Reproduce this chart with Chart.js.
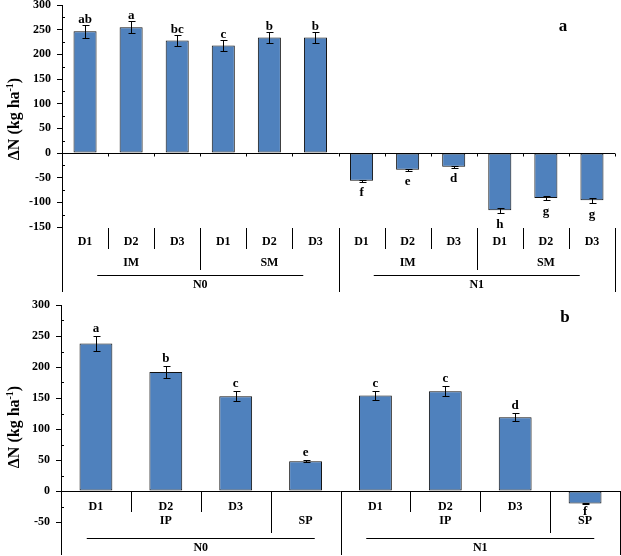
<!DOCTYPE html>
<html><head><meta charset="utf-8">
<script src="https://cdn.jsdelivr.net/npm/chart.js@4.4.1/dist/chart.umd.min.js"></script>
<style>
html,body{margin:0;padding:0;background:#fff;}
#wrap{position:relative;width:621px;height:556px;overflow:hidden;background:#fff;}
#ca{position:absolute;left:0;top:0;}
#cb{position:absolute;left:0;top:295px;}
</style></head><body>
<div id="wrap">
<canvas id="ca" width="621" height="295"></canvas>
<canvas id="cb" width="621" height="261"></canvas>
</div>
<script>
// ---------- Panel a data ----------
const aValues  = [247, 255, 228, 218, 234, 234, -56, -34, -28, -116, -91, -96];
const aErrors  = [13, 12, 11.5, 11.5, 11.5, 11, 2, 1.5, 1.5, 5, 4, 5];
const aLetters = ['ab','a','bc','c','b','b','f','e','d','h','g','g'];
const aLevel1  = ['D1','D2','D3','D1','D2','D3','D1','D2','D3','D1','D2','D3'];
const aLevel2  = ['IM','SM','IM','SM'];
const aLevel2Span = [3,3,3,3];
const aLevel3  = ['N0','N1'];
const aLevel3Span = [6,6];
const aYTicks  = [300,250,200,150,100,50,0,-50,-100,-150];

// ---------- Panel b data ----------
const bValues  = [238, 192, 153, 48, 154, 161, 119, -20];
const bErrors  = [11.5, 9.5, 8, 2, 8, 8.5, 6.5, 1];
const bLetters = ['a','b','c','e','c','c','d','f'];
const bLevel1  = ['D1','D2','D3','','D1','D2','D3',''];
const bLevel2  = ['IP','SP','IP','SP'];
const bLevel2Span = [3,1,3,1];
const bLevel3  = ['N0','N1'];
const bLevel3Span = [4,4];
const bYTicks  = [300,250,200,150,100,50,0,-50];

const FONT = '"Liberation Serif","Times New Roman",serif';
const BAR_FILL = '#4F81BD';

function boundaries(spans){ const s=new Set(); let acc=0; spans.forEach(n=>{acc+=n; s.add(acc);}); return s; }

function decoPlugin(d){
  return {
    id:'deco',
    afterDatasetsDraw(chart){
      const ctx=chart.ctx, ys=chart.scales.y, ca=chart.chartArea;
      const n=d.level1.length, w=(ca.right-ca.left)/n;
      const line=(x1,y1,x2,y2)=>{ctx.beginPath();ctx.moveTo(x1,y1);ctx.lineTo(x2,y2);ctx.stroke();};
      const px=v=>Math.round(v)+0.5;
      ctx.save();
      ctx.strokeStyle='#000'; ctx.fillStyle='#000'; ctx.lineWidth=1;
      // error bars + letters
      const meta=chart.getDatasetMeta(0);
      ctx.font='bold 13px '+FONT; ctx.textAlign='center';
      meta.data.forEach((bar,i)=>{
        const v=d.values[i], e=d.errors[i];
        const x=px(bar.x);
        const y1=ys.getPixelForValue(v+e), y2=ys.getPixelForValue(v-e);
        line(x,px(y1),x,px(y2));
        line(x-3,px(y1),x+4,px(y1));
        line(x-3,px(y2),x+4,px(y2));
        if(v>=0){ ctx.textBaseline='alphabetic'; ctx.fillText(d.letters[i],bar.x,Math.min(y1,y2)-d.gapUp); }
        else { ctx.textBaseline='top'; ctx.fillText(d.letters[i],bar.x,Math.max(y1,y2)+d.gapDown); }
      });
      // zero line
      const y0=px(ys.getPixelForValue(0));
      line(ca.left,y0,ca.right,y0);
      if(d.zeroTicks){ for(let k=1;k<=n;k++){ const x=px(ca.left+k*w); line(x,y0,x,y0+3); } }
      // minor ticks on y axis
      for(let i=0;i<d.yTicks.length-1;i++){
        const m=(d.yTicks[i]+d.yTicks[i+1])/2; const y=px(ys.getPixelForValue(m));
        line(ca.left,y,ca.left+3,y);
      }
      // y axis extension
      const xa=px(ca.left);
      line(xa,ca.bottom,xa,d.rowTop+64);
      // separators
      const b2=boundaries(d.level2Span), b3=boundaries(d.level3Span);
      for(let k=1;k<=n;k++){
        const x=px(ca.left+k*w);
        let len=21; if(b3.has(k)) len=64; else if(b2.has(k)) len=42;
        line(x,d.rowTop,x,d.rowTop+len);
      }
      // labels
      ctx.font='bold 12px '+FONT; ctx.textBaseline='middle'; ctx.textAlign='center';
      d.level1.forEach((t,i)=>{ if(t) ctx.fillText(t,ca.left+(i+0.5)*w,d.rowTop+d.r1); });
      let acc=0;
      d.level2.forEach((t,i)=>{ const c=ca.left+(acc+d.level2Span[i]/2)*w; ctx.fillText(t,c,d.rowTop+d.r2); acc+=d.level2Span[i]; });
      acc=0;
      d.level3.forEach((t,i)=>{ const c=ca.left+(acc+d.level3Span[i]/2)*w;
        ctx.fillText(t,c,d.rowTop+57);
        const yl=px(d.rowTop+47); line(c-d.ulHalf,yl,c+d.ulHalf,yl);
        acc+=d.level3Span[i]; });
      // y title
      ctx.save();
      ctx.translate(15,d.titleY); ctx.rotate(-Math.PI/2);
      const f1='bold 16px '+FONT, f2='bold 10px '+FONT;
      const t1='\u0394N (kg ha', t2='-1', t3=')';
      ctx.font=f1; const w1=ctx.measureText(t1).width, w3=ctx.measureText(t3).width;
      ctx.font=f2; const w2=ctx.measureText(t2).width;
      let sx=-(w1+w2+w3)/2;
      ctx.textAlign='left'; ctx.textBaseline='middle';
      ctx.font=f1; ctx.fillText(t1,sx,0); sx+=w1;
      ctx.font=f2; ctx.fillText(t2,sx,-5); sx+=w2;
      ctx.font=f1; ctx.fillText(t3,sx,0);
      ctx.restore();
      // panel letter
      ctx.font='bold 17px '+FONT; ctx.textAlign='center'; ctx.textBaseline='middle';
      ctx.fillText(d.panel,d.panelX,d.panelY);
      ctx.restore();
    }
  };
}

function makeChart(id, d){
  const yMin=Math.min(...d.yTicks), yMax=Math.max(...d.yTicks);
  return new Chart(document.getElementById(id),{
    type:'bar',
    data:{ labels:d.level1.map((t,i)=>t+'_'+i),
      datasets:[{ data:d.values, backgroundColor:BAR_FILL, borderColor:'#111', borderWidth:1,
        borderSkipped:false, barPercentage:d.barPct, categoryPercentage:1 }]},
    options:{
      responsive:false, animation:false, devicePixelRatio:1,
      layout:{padding:d.padding},
      plugins:{legend:{display:false}, tooltip:{enabled:false}},
      scales:{
        x:{display:false},
        y:{ min:yMin, max:yMax,
          afterBuildTicks(s){ s.ticks=d.yTicks.slice().sort((a,b)=>a-b).map(v=>({value:v})); },
          afterFit(s){ s.width=d.axisW; s.paddingTop=0; s.paddingBottom=0; },
          grid:{drawOnChartArea:false, drawTicks:true, tickLength:5, color:'#000'},
          border:{display:true, color:'#000', width:1},
          ticks:{color:'#000', padding:6, font:{family:FONT, size:12, weight:'bold'}}
        }
      }
    },
    plugins:[decoPlugin(d)]
  });
}

makeChart('ca',{
  values:aValues, errors:aErrors, letters:aLetters, level1:aLevel1, level2:aLevel2, level2Span:aLevel2Span,
  level3:aLevel3, level3Span:aLevel3Span, yTicks:aYTicks,
  padding:{top:5,bottom:68,left:0,right:6}, axisW:62, barPct:0.5,
  gapUp:2, gapDown:5, zeroTicks:true, rowTop:228, r1:14, r2:35, ulHalf:103,
  titleY:119, panel:'a', panelX:563, panelY:27
});
makeChart('cb',{
  values:bValues, errors:bErrors, letters:bLetters, level1:bLevel1, level2:bLevel2, level2Span:bLevel2Span,
  level3:bLevel3, level3Span:bLevel3Span, yTicks:bYTicks,
  padding:{top:10,bottom:34,left:0,right:1}, axisW:61, barPct:0.47,
  gapUp:4, gapDown:1, zeroTicks:false, rowTop:196, r1:16, r2:30, ulHalf:114,
  titleY:132, panel:'b', panelX:565, panelY:23
});
</script>
</body></html>
